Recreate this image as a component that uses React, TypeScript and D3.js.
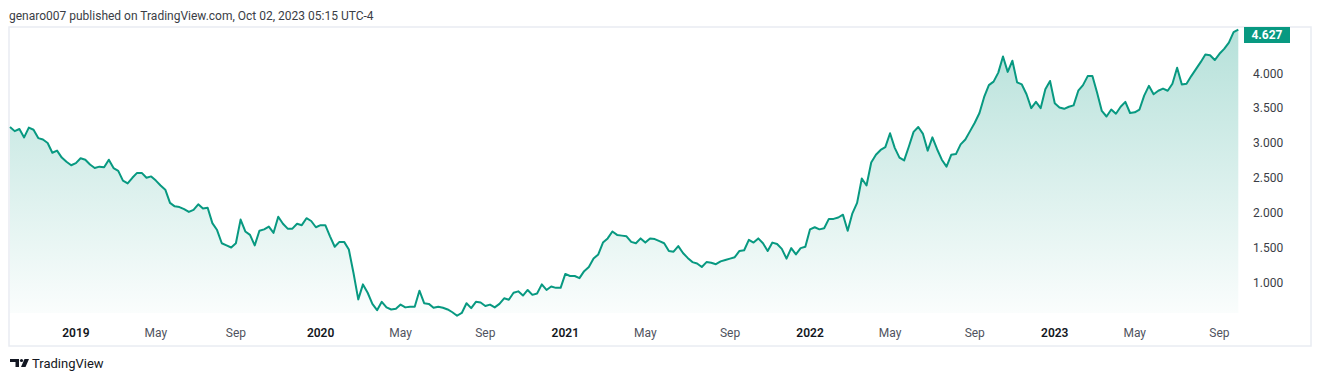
import React from "react";
import * as d3 from "d3";

// Weekly closes, first bar Mon Oct 1 2018, last bar Mon Oct 2 2023
const startDate = new Date(2018, 9, 1);
const values: number[] = [
  3.23, 3.17, 3.2, 3.08, 3.22, 3.19, 3.07, 3.05, 3.0, 2.86,
  2.89, 2.79, 2.73, 2.68, 2.71, 2.78, 2.76, 2.69, 2.64, 2.66,
  2.65, 2.76, 2.64, 2.6, 2.46, 2.42, 2.5, 2.57, 2.57, 2.5,
  2.52, 2.46, 2.39, 2.33, 2.14, 2.09, 2.08, 2.05, 2.01, 2.04,
  2.12, 2.06, 2.07, 1.85, 1.75, 1.56, 1.53, 1.5, 1.56, 1.9,
  1.73, 1.68, 1.53, 1.74, 1.76, 1.8, 1.71, 1.94, 1.84, 1.77,
  1.77, 1.84, 1.82, 1.92, 1.88, 1.79, 1.82, 1.82, 1.66, 1.51,
  1.58, 1.58, 1.47, 1.13, 0.755, 0.97, 0.85, 0.69, 0.6, 0.72,
  0.64, 0.61, 0.62, 0.68, 0.64, 0.65, 0.65, 0.88, 0.7, 0.69,
  0.635, 0.65, 0.635, 0.61, 0.57, 0.52, 0.56, 0.7, 0.63, 0.72,
  0.71, 0.66, 0.68, 0.64, 0.69, 0.77, 0.75, 0.85, 0.87, 0.81,
  0.89, 0.82, 0.84, 0.97, 0.89, 0.94, 0.92, 0.92, 1.12, 1.09,
  1.09, 1.06, 1.16, 1.22, 1.34, 1.4, 1.57, 1.63, 1.73, 1.68,
  1.67, 1.66, 1.58, 1.56, 1.63, 1.57, 1.63, 1.62, 1.59, 1.56,
  1.45, 1.44, 1.52, 1.42, 1.35, 1.29, 1.27, 1.22, 1.29, 1.28,
  1.26, 1.3, 1.32, 1.34, 1.36, 1.45, 1.46, 1.61, 1.57, 1.63,
  1.56, 1.45, 1.57, 1.55, 1.48, 1.34, 1.49, 1.4, 1.49, 1.51,
  1.76, 1.79, 1.76, 1.775, 1.91, 1.91, 1.93, 1.97, 1.74, 1.99,
  2.14, 2.49, 2.39, 2.72, 2.83, 2.9, 2.94, 3.14, 2.93, 2.79,
  2.75, 2.95, 3.16, 3.23, 3.13, 2.89, 3.08, 2.91, 2.76, 2.66,
  2.83, 2.84, 2.98, 3.05, 3.17, 3.29, 3.43, 3.66, 3.83, 3.88,
  4.01, 4.24, 4.02, 4.18, 3.87, 3.84, 3.7, 3.5, 3.59, 3.5,
  3.77, 3.89, 3.57, 3.51, 3.49, 3.52, 3.54, 3.75, 3.83, 3.96,
  3.96, 3.72, 3.46, 3.38, 3.48, 3.42, 3.52, 3.59, 3.43, 3.44,
  3.48, 3.68, 3.82, 3.7, 3.75, 3.78, 3.75, 3.85, 4.08, 3.84,
  3.85, 3.96, 4.06, 4.16, 4.27, 4.26, 4.19, 4.28, 4.35, 4.44,
  4.59, 4.627,
];

const timeTickLabels = ["2019", "May", "Sep", "2020", "May", "Sep", "2021", "May", "Sep", "2022", "May", "Sep", "2023", "May", "Sep"];
const timeTickMonths = ["2019-01", "2019-05", "2019-09", "2020-01", "2020-05", "2020-09", "2021-01", "2021-05", "2021-09", "2022-01", "2022-05", "2022-09", "2023-01", "2023-05", "2023-09"];
const priceTicks = [1.0, 1.5, 2.0, 2.5, 3.0, 3.5, 4.0];
const headerText = "genaro007 published on TradingView.com, Oct 02, 2023 05:15 UTC-4";
const lastLabel = "4.627";

const GREEN = "#089981";
const FONT = "Roboto, 'Noto Sans', sans-serif";

export default function App() {
  const W = 1322, H = 382;
  const plotL = 10, plotR = 1238.3, plotT = 27, plotB = 313;
  const dates = values.map((_, i) => d3.timeWeek.offset(startDate, i));
  const x = d3.scaleLinear().domain([0, values.length - 1]).range([plotL, plotR]);
  const y = d3.scaleLinear().domain([1, 4]).range([282.3, 73.3]);

  const line = d3.line<number>().x((_, i) => x(i)).y((d) => y(d));
  const area = d3.area<number>().x((_, i) => x(i)).y0(plotB).y1((d) => y(d));

  const ticks = timeTickMonths.map((m, k) => {
    const [yy, mm] = m.split("-").map(Number);
    const first = new Date(yy, mm - 1, 1);
    const idx = dates.findIndex((d) => d >= first);
    return { label: timeTickLabels[k], idx, isYear: mm === 1 };
  });

  const last = values[values.length - 1];
  let boxCy = y(last);
  const boxH = 16;
  if (boxCy - boxH / 2 < plotT) boxCy = plotT + boxH / 2;

  return (
    <svg width={W} height={H} style={{ position: "absolute", left: 0, top: 0, background: "#fff" }} fontFamily={FONT}>
      <defs>
        <linearGradient id="fillGrad" gradientUnits="userSpaceOnUse" x1="0" y1={plotT} x2="0" y2={plotB}>
          <stop offset="0" stopColor={GREEN} stopOpacity={0.3} />
          <stop offset="1" stopColor={GREEN} stopOpacity={0.02} />
        </linearGradient>
      </defs>
      <text x={9} y={20} fontSize={12} fill="#3a3d45">{headerText}</text>
      <rect x={9} y={27} width={1302} height={319} fill="#fff" stroke="#e9ecf2" strokeWidth={1.5} />
      <path d={area(values) || ""} fill="url(#fillGrad)" />
      <path d={line(values) || ""} fill="none" stroke={GREEN} strokeWidth={2} strokeLinejoin="round" />
      {priceTicks.map((v) => (
        <text key={v} x={1253} y={y(v) + 4.3} fontSize={12} fill="#3a3d45">{d3.format(".3f")(v)}</text>
      ))}
      <rect x={1244} y={boxCy - boxH / 2} width={46} height={boxH} fill={GREEN} />
      <text x={1267} y={boxCy + 4.3} fontSize={12} fontWeight={700} fill="#fff" textAnchor="middle">{lastLabel}</text>
      {ticks.map((t, k) => (
        <text key={k} x={x(t.idx)} y={336.5} fontSize={12} textAnchor="middle" fill={t.isYear ? "#131722" : "#50535e"} fontWeight={t.isYear ? 600 : 400}>{t.label}</text>
      ))}
      <g fill="#131722">
        <path d="M10,359 H19 V367 H15.5 V362 H10 Z" />
        <circle cx={21.5} cy={360.5} r={1.6} />
        <path d="M24.5,359 H29 L25.5,367 H21 Z" />
      </g>
      <text x={32} y={368} fontSize={13} fill="#131722">TradingView</text>
    </svg>
  );
}
